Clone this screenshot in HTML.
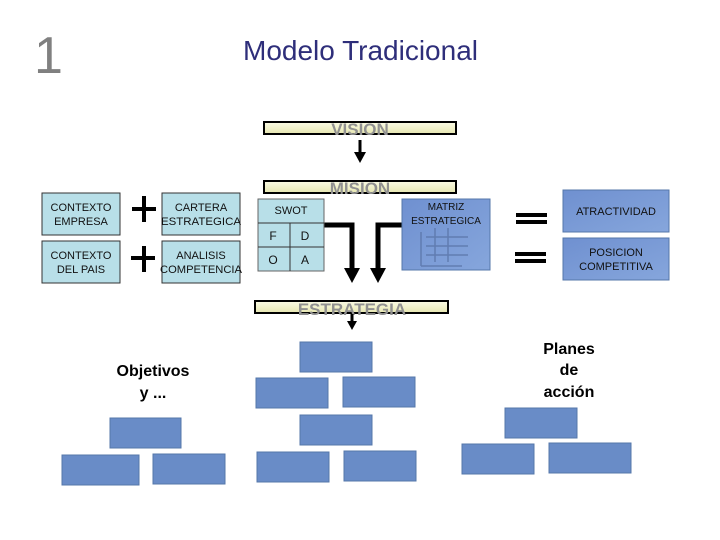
<!DOCTYPE html>
<html><head><meta charset="utf-8"><style>
html,body{margin:0;padding:0;background:#fff;}
svg{display:block;font-family:"Liberation Sans",sans-serif;}
</style></head><body>
<svg width="720" height="540" viewBox="0 0 720 540" xmlns="http://www.w3.org/2000/svg">
<defs>
<linearGradient id="yel" x1="0" y1="0" x2="0" y2="1"><stop offset="0" stop-color="#fbfbe6"/><stop offset="1" stop-color="#e6e6b0"/></linearGradient>
<linearGradient id="blu" x1="0" y1="0" x2="1" y2="1"><stop offset="0" stop-color="#6f90d0"/><stop offset="1" stop-color="#86a6dc"/></linearGradient>
</defs>
<text x="34" y="73" font-size="52" fill="#808080">1</text>
<text x="243" y="60" font-size="28" fill="#2e2e7a" textLength="235" lengthAdjust="spacingAndGlyphs">Modelo Tradicional</text>

<!-- bars -->
<rect x="264" y="122" width="192" height="12" fill="url(#yel)" stroke="#000" stroke-width="2"/>
<text x="360" y="135" font-size="17" font-weight="bold" fill="#909090" text-anchor="middle">VISION</text>
<rect x="264" y="181" width="192" height="12" fill="url(#yel)" stroke="#000" stroke-width="2"/>
<text x="360" y="194" font-size="17" font-weight="bold" fill="#909090" text-anchor="middle">MISION</text>
<rect x="255" y="301" width="193" height="12" fill="url(#yel)" stroke="#000" stroke-width="2"/>
<text x="352" y="315" font-size="17" font-weight="bold" fill="#909090" text-anchor="middle">ESTRATEGIA</text>

<!-- arrows -->
<line x1="360" y1="140" x2="360" y2="153" stroke="#000" stroke-width="3"/>
<polygon points="354,152 366,152 360,163" fill="#000"/>
<polyline points="324,225 352,225 352,270" fill="none" stroke="#000" stroke-width="5"/>
<polygon points="344,268 360,268 352,283" fill="#000"/>
<polyline points="403,225 378,225 378,270" fill="none" stroke="#000" stroke-width="5"/>
<polygon points="370,268 386,268 378,283" fill="#000"/>
<line x1="352" y1="314" x2="352" y2="322" stroke="#000" stroke-width="3"/>
<polygon points="347,321 357,321 352,330" fill="#000"/>

<!-- left boxes -->
<g fill="#b8dfe8" stroke="#333" stroke-width="1">
<rect x="42" y="193" width="78" height="42"/><rect x="42" y="241" width="78" height="42"/>
<rect x="162" y="193" width="78" height="42"/><rect x="162" y="241" width="78" height="42"/>
</g>
<g font-size="11" text-anchor="middle" fill="#111">
<text x="81" y="211">CONTEXTO</text><text x="81" y="225">EMPRESA</text>
<text x="81" y="259">CONTEXTO</text><text x="81" y="273">DEL PAIS</text>
<text x="201" y="211">CARTERA</text><text x="201" y="225" textLength="80" lengthAdjust="spacingAndGlyphs">ESTRATEGICA</text>
<text x="201" y="259">ANALISIS</text><text x="201" y="273" textLength="82" lengthAdjust="spacingAndGlyphs">COMPETENCIA</text>
</g>
<g fill="#000"><rect x="142" y="196" width="4" height="26"/><rect x="132" y="207" width="24" height="4"/>
<rect x="142" y="246" width="4" height="26"/><rect x="131" y="256" width="24" height="4"/></g>

<!-- SWOT -->
<g fill="#b8dfe8" stroke="#666" stroke-width="1"><rect x="258" y="199" width="66" height="72"/></g>
<g stroke="#333" stroke-width="1"><line x1="258" y1="223" x2="324" y2="223"/><line x1="258" y1="247" x2="324" y2="247"/><line x1="290" y1="223" x2="290" y2="271"/></g>
<g font-size="12" fill="#111" text-anchor="middle">
<text x="291" y="214" font-size="11">SWOT</text><text x="273" y="240">F</text><text x="305" y="240">D</text><text x="273" y="264">O</text><text x="305" y="264">A</text>
</g>

<!-- matriz -->
<rect x="402" y="199" width="88" height="71" fill="url(#blu)" stroke="#5577aa"/>
<g stroke="#5a75a8" stroke-width="1.5" fill="none" opacity="0.8">
<line x1="421" y1="232" x2="421" y2="266"/><line x1="421" y1="266" x2="462" y2="266"/>
<line x1="435" y1="228" x2="435" y2="262"/><line x1="448" y1="228" x2="448" y2="262"/>
<line x1="426" y1="237" x2="468" y2="237"/><line x1="426" y1="246" x2="468" y2="246"/><line x1="426" y1="255" x2="468" y2="255"/>
</g>
<text x="446" y="210" font-size="10" text-anchor="middle" fill="#111">MATRIZ</text>
<text x="446" y="224" font-size="10" text-anchor="middle" fill="#111">ESTRATEGICA</text>

<!-- equals -->
<g fill="#000"><rect x="516" y="213" width="31" height="4"/><rect x="516" y="220" width="31" height="4"/>
<rect x="515" y="252" width="31" height="4"/><rect x="515" y="259" width="31" height="4"/></g>

<rect x="563" y="190" width="106" height="42" fill="url(#blu)" stroke="#5577aa"/>
<rect x="563" y="238" width="106" height="42" fill="url(#blu)" stroke="#5577aa"/>
<text x="616" y="215" font-size="11" text-anchor="middle" fill="#111">ATRACTIVIDAD</text>
<text x="616" y="256" font-size="11" text-anchor="middle" fill="#111">POSICION</text>
<text x="616" y="270" font-size="11" text-anchor="middle" fill="#111">COMPETITIVA</text>

<!-- lower blue boxes -->
<g fill="#698cc7" stroke="#5577aa" stroke-width="1">
<rect x="300" y="342" width="72" height="30"/>
<rect x="256" y="378" width="72" height="30"/><rect x="343" y="377" width="72" height="30"/>
<rect x="300" y="415" width="72" height="30"/>
<rect x="257" y="452" width="72" height="30"/><rect x="344" y="451" width="72" height="30"/>
<rect x="110" y="418" width="71" height="30"/>
<rect x="62" y="455" width="77" height="30"/><rect x="153" y="454" width="72" height="30"/>
<rect x="505" y="408" width="72" height="30"/>
<rect x="462" y="444" width="72" height="30"/><rect x="549" y="443" width="82" height="30"/>
</g>
<g font-size="16" font-weight="bold" text-anchor="middle" fill="#000">
<text x="153" y="376">Objetivos</text><text x="153" y="398">y ...</text>
<text x="569" y="354">Planes</text><text x="569" y="375">de</text><text x="569" y="397">acción</text>
</g>
</svg>
</body></html>
